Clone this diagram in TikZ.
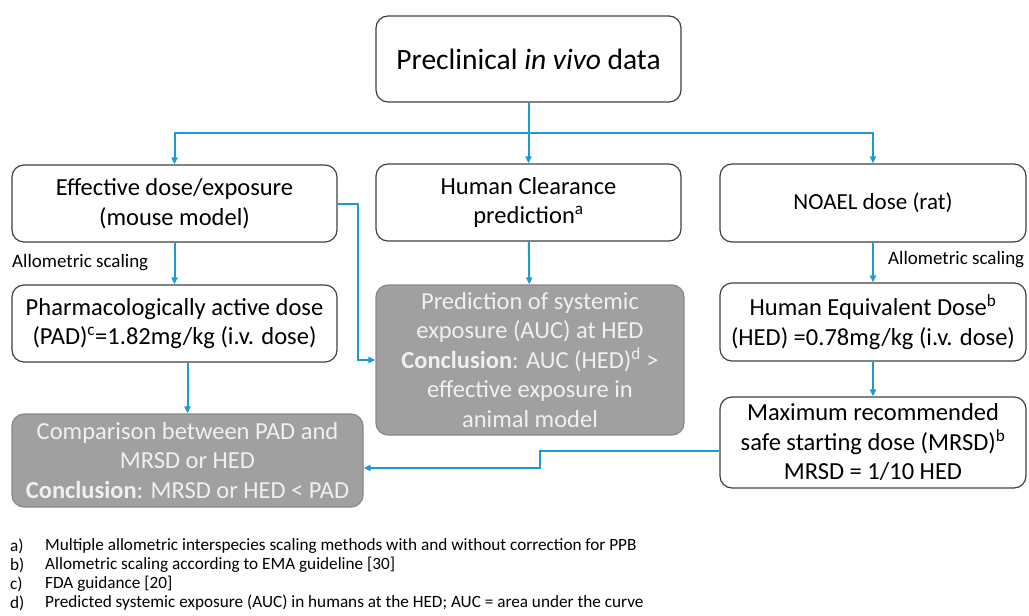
\documentclass[tikz,border=0pt]{standalone}
\usepackage{fontspec}
\setmainfont{Carlito}
\usetikzlibrary{arrows.meta,positioning}
\definecolor{flowblue}{RGB}{27,154,214}
\definecolor{boxgray}{RGB}{160,160,160}
\tikzset{
    box/.style={draw=black!75, rounded corners=12pt, line width=1.2pt, align=center,
        inner sep=2pt, font=\fontsize{24.5}{29.5}\selectfont},
    graybox/.style={box, fill=boxgray, draw=boxgray!85!black, text=white!94!black},
    flow/.style={flowblue, line width=2pt, -{Triangle[length=7pt,width=6pt]}},
    note/.style={font=\fontsize{19}{22}\selectfont, inner sep=0pt, anchor=west},
    foot/.style={font=\fontsize{17.2}{20}\selectfont, inner sep=0pt, anchor=west}
}

\begin{document}
\begin{tikzpicture}[x=1pt, y=-1pt]
                        \useasboundingbox (0,0) rectangle (1029,616);
                        % boxes
                        \node[box, minimum width=305pt, minimum height=86pt, font=\fontsize{29.5}{34}\selectfont] (pre) at (528.5, 59) {Preclinical \textit{in vivo} data};
                        \node[box, minimum width=325pt, minimum height=77pt] (eff) at (174.5, 203.5) {Effective dose/exposure\\(mouse model)};
                        \node[box, minimum width=305pt, minimum height=77pt] (hcl) at (528.5, 202.5) {Human Clearance\\prediction\textsuperscript{a}};
                        \node[box, minimum width=306pt, minimum height=78pt, font=\fontsize{23}{28}\selectfont] (noael) at (873, 203) {NOAEL dose (rat)};
                        \node[box, minimum width=325pt, minimum height=77pt] (pad) at (174.5, 323.5) {Pharmacologically active dose\\(PAD)\textsuperscript{c}=1.82mg/kg (i.v. dose)};
                        \node[graybox, minimum width=308pt, minimum height=150pt] (pred) at (530, 360) {Prediction of systemic\\exposure (AUC) at HED\\\textbf{Conclusion}: AUC (HED)\textsuperscript{d} >\\effective exposure in\\animal model};
                        \node[box, minimum width=306pt, minimum height=78pt] (hed) at (873, 322) {Human Equivalent Dose\textsuperscript{b}\\(HED) =0.78mg/kg (i.v. dose)};
                        \node[box, minimum width=306pt, minimum height=91pt] (mrsd) at (873, 442.5) {Maximum recommended\\safe starting dose (MRSD)\textsuperscript{b}\\MRSD = 1/10 HED};
                        \node[graybox, minimum width=351pt, minimum height=93pt] (comp) at (187.5, 460.5) {Comparison between PAD and\\MRSD or HED\\\textbf{Conclusion}: MRSD or HED < PAD};
                        % labels
                        \node[note] (scl) at (12, 263) {Allometric scaling};
                        \node[note] (scr) at (888, 260) {Allometric scaling};
                        % connectors
                        \coordinate (split) at (528.5, 133);
                        \coordinate (jog) at (540, 451);
                        \draw[flow] (pre) -- (hcl);
                        \draw[flow] (split) -| (eff.north);
                        \draw[flow] (split) -| (noael.north);
                        \draw[flow] (eff) -- (pad);
                        \draw[flow] (hcl) -- (pred);
                        \draw[flow] (noael) -- (hed);
                        \draw[flow] (hed) -- (mrsd);
                        \draw[flow] (pad.south -| comp.north) -- (comp.north);
                        \draw[flow] (eff.east) -- ++(20,0) |- (pred.west);
                        \draw[flow] (mrsd.west |- jog) -- (jog) |- ([yshift=-7.5pt]comp.east);
                        % footnotes
                        \foreach \k/\t [count=\i from 0] in {a/{Multiple allometric interspecies scaling methods with and without correction for PPB},
                            b/{Allometric scaling according to EMA guideline [30]},
                            c/{FDA guidance [20]},
                            d/{Predicted systemic exposure (AUC) in humans at the HED; AUC = area under the curve}}
                        {
                            \node[foot] (fk\i) at (10, 546+19*\i) {\k)};
                            \node[foot] (ft\i) at (45, 546+19*\i) {\t};
                        }
                    \end{tikzpicture}
\end{document}
